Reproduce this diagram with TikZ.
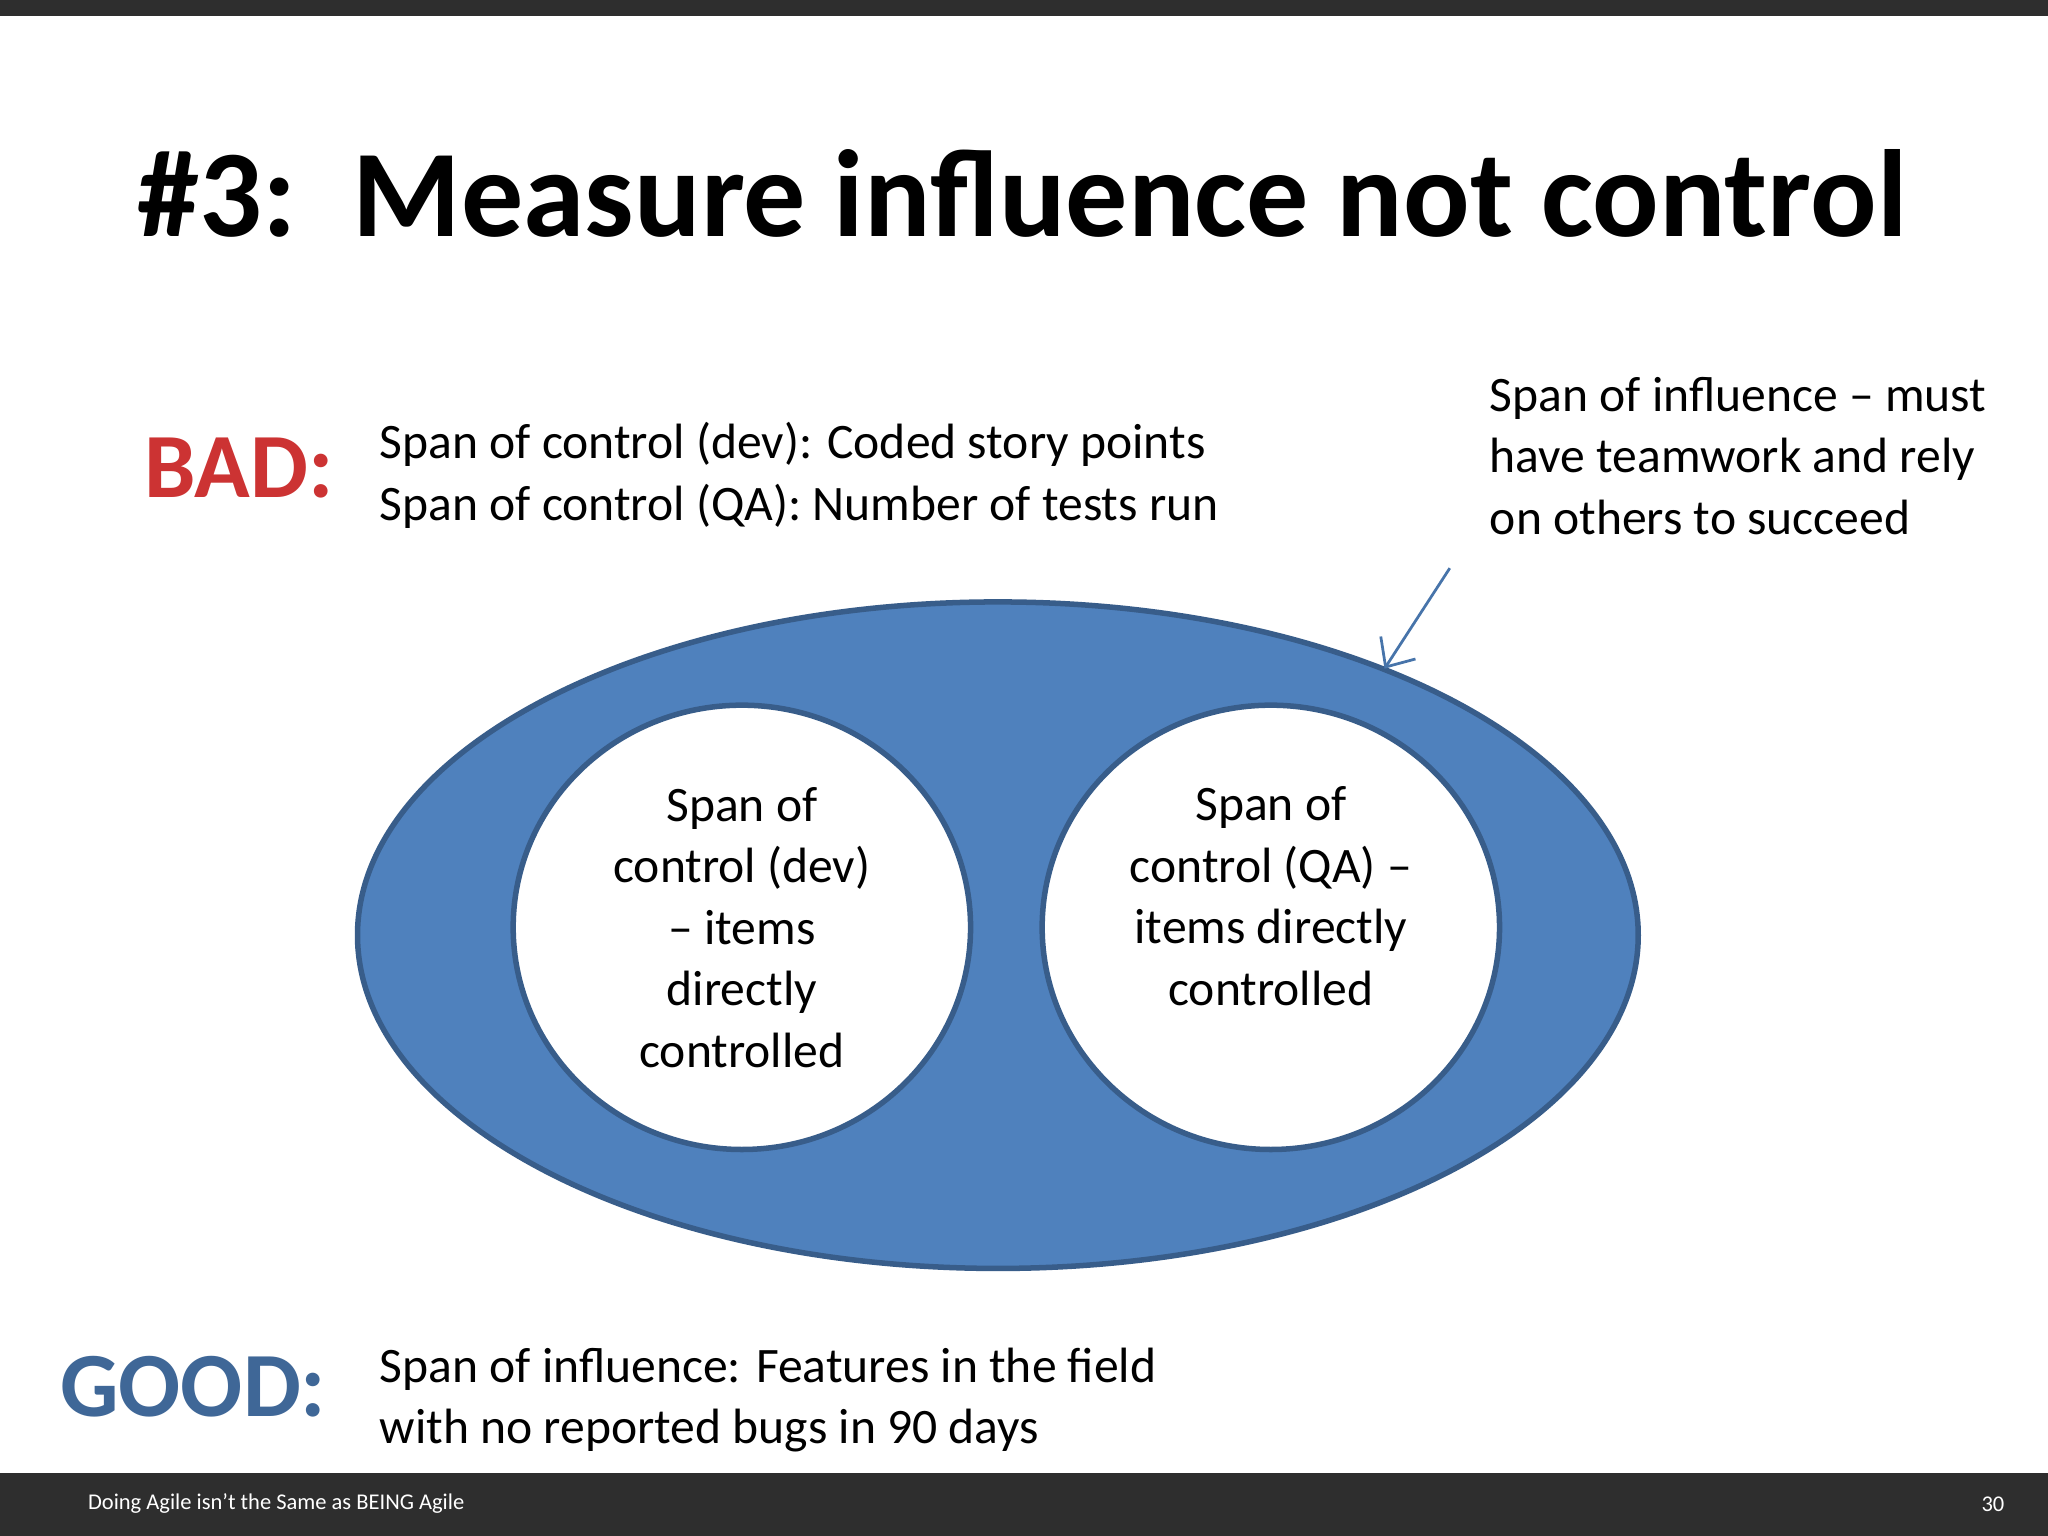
\documentclass[tikz,border=0pt]{standalone}
\usepackage{fontspec}
\setmainfont{Carlito}
\usetikzlibrary{arrows.meta}
\definecolor{ellblue}{HTML}{4F81BD}
\definecolor{ellborder}{HTML}{385D8A}
\definecolor{barc}{HTML}{2E2E2E}
\tikzset{
  body/.style={anchor=west,align=left,font=\fontsize{10.8}{13.4}\selectfont,inner sep=0pt},
  circ/.style={ellipse,draw=ellborder,line width=1.2pt,fill=white,align=center,font=\fontsize{10.8}{13.4}\selectfont},
}
\usetikzlibrary{shapes.geometric}
\begin{document}
\begin{tikzpicture}[x=0.01cm,y=-0.01cm]
\useasboundingbox (0,0) rectangle (1568,1176);
\fill[white] (0,0) rectangle (1568,1176);
\fill[barc] (0,0) rectangle (1568,12);
\fill[barc] (0,1128) rectangle (1568,1176);
\node[font=\bfseries\fontsize{27}{32}\selectfont] (title) at (783,148) {\#3:\ \ Measure influence not control};
\node[font=\bfseries\fontsize{20}{24}\selectfont,text=red!75!black!80] (bad) at (183,358) {BAD:};
\node[font=\bfseries\fontsize{20}{24}\selectfont,text=ellblue!80!black] (good) at (148,1062) {GOOD:};
\node[body] (badtxt) at (290,364) {Span of control (dev): Coded story points\\Span of control (QA): Number of tests run};
\node[body] (goodtxt) at (290,1072) {Span of influence: Features in the field\\with no reported bugs in 90 days};
\node[body] (inftxt) at (1140,349) {Span of influence -- must\\have teamwork and rely\\on others to succeed};
\node[ellipse,draw=ellborder,line width=1.2pt,fill=ellblue,minimum width=980\pgflinewidth*0+9.8cm,minimum height=5.1cm] (ell) at (764,716) {};
\node[circ,minimum width=3.5cm,minimum height=3.4cm] (dev) at (568,710) {};
\node[align=center,font=\fontsize{10.8}{13.4}\selectfont] at (568,710) {Span of\\control (dev)\\-- items\\directly\\controlled};
\node[circ,minimum width=3.5cm,minimum height=3.4cm] (qa) at (973,710) {};
\node[align=center,font=\fontsize{10.8}{13.4}\selectfont] at (973,686) {Span of\\control (QA) --\\items directly\\controlled};
\coordinate (atail) at (1110,435);
\coordinate (ahead) at (1060,512);
\draw[ellblue!90!black,line width=0.6pt,-{Straight Barb[length=5pt,width=9pt]}] (atail) -- (ahead);
\node[anchor=west,text=white,font=\fontsize{4.9}{6}\selectfont] (foot) at (55,1151) {Doing Agile isn’t the Same as BEING Agile};
\node[anchor=east,text=white,font=\fontsize{4.9}{6}\selectfont] (pg) at (1547,1152) {30};
\end{tikzpicture}
\end{document}
